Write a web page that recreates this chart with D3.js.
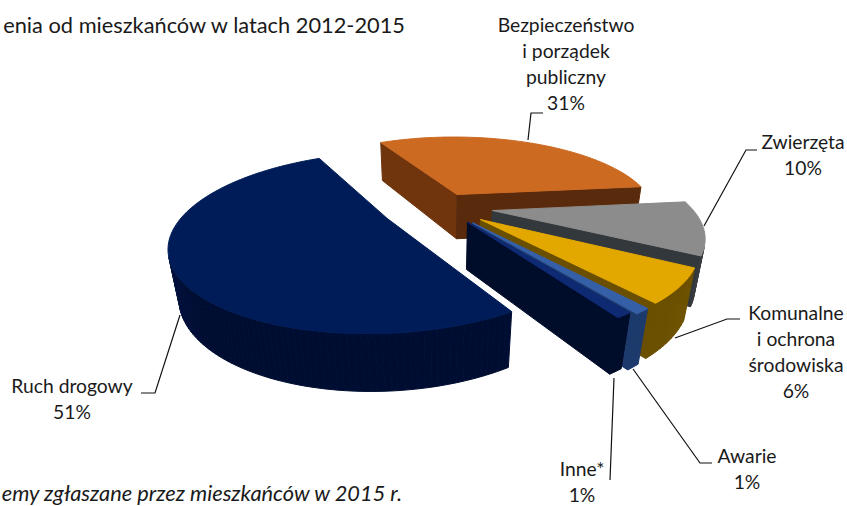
<!DOCTYPE html>
<html>
<head>
<meta charset="utf-8">
<script src="https://cdn.jsdelivr.net/npm/d3@7"></script>
<style>
  html, body { margin: 0; padding: 0; background: #fff; overflow: hidden; }
  text { font-family: Lato, "Open Sans", sans-serif; font-size: 19.3px; fill: #1a1a1a; }
  .leader { fill: none; stroke: #111; stroke-width: 1.2; }
  .title { font-size: 21.8px; }
  .note { font-size: 21.8px; font-style: italic; }
</style>
</head>
<body>
<svg id="chart" width="847" height="506"></svg>
<script>
const categories = ["Ruch drogowy", "Bezpieczeństwo i porządek publiczny", "Zwierzęta", "Komunalne i ochrona środowiska", "Awarie", "Inne*"];
const shares = [51, 31, 10, 6, 1, 1];

// top face, wall and shaded wall colour per slice
const topColors = ["#021d58", "#cc6a22", "#8c8c8c", "#e3a800", "#3660a8", "#0c2a72"];
const wallColors = ["#031a50", "#6f350c", "#42474b", "#7b5c00", "#27467e", "#010f33"];
const wallDark = ["#010e30", "#5a2a08", "#33373a", "#6a4f00", "#1f3a6c", "#010c2a"];
const explode = [0.3, 0.18, 0.26, 0.25, 0.25, 0.23];

const labelLines = [
    ["Ruch drogowy", "51%"],
    ["Bezpieczeństwo", "i porządek", "publiczny", "31%"],
    ["Zwierzęta", "10%"],
    ["Komunalne", "i ochrona", "środowiska", "6%"],
    ["Awarie", "1%"],
    ["Inne*", "1%"]
];
const labelPos = [[72, 393], [566, 32], [803, 149], [796, 320], [747, 463], [582, 476]];

// label anchor [x, y], leader goes via elbow to the slice
const leaders = [
    [[141, 393], [155, 393], [180, 315]],
    [[543, 113], [531, 113], [528, 140]],
    [[757, 150], [746, 150], [704, 226]],
    [[740, 319], [727, 319], [675, 338]],
    [[712, 463], [700, 463], [633, 369]],
    [[610, 480], [614, 378]]
];

const svg = d3.select("#chart");

// perspective view of the pie
const view = {cx: 441, cy: 252, rx: 191.6, ry: 86.5, h: 44, p: 0.25, u: 0, q: 0.035};
function project(x, y, z) {
    const d = 1 - view.p * y + view.u * x - view.q * z;
    return [view.cx + view.rx * x / d, view.cy + (view.ry * y - view.h * z) / d];
}

// d3 pie angles run clockwise from north
const startDeg = -211.6;
const arcs = d3.pie().sort(null)
    .startAngle(startDeg * Math.PI / 180)
    .endAngle((startDeg + 360) * Math.PI / 180)(shares);

const line = d3.line();
const defs = svg.append("defs");
defs.append("filter").attr("id", "soft")
    .append("feGaussianBlur").attr("stdDeviation", 0.5);
const pie = svg.append("g").attr("id", "pie").attr("filter", "url(#soft)");

function face(pts, color) {
    pie.append("path")
        .attr("d", line(pts) + "Z")
        .attr("fill", color)
        .attr("stroke", color)
        .attr("stroke-width", 1);
}

arcs.forEach((a, i) => {
    const mid = (a.startAngle + a.endAngle) / 2;
    const ox = Math.sin(mid) * explode[i];
    const oy = -Math.cos(mid) * explode[i];
    const rim = ang => [ox + Math.sin(ang), oy - Math.cos(ang)];
    const steps = Math.max(2, Math.round((a.endAngle - a.startAngle) * 40));
    const angles = d3.range(steps + 1).map(k => a.startAngle + (a.endAngle - a.startAngle) * k / steps);

    // radial walls, start then end (polygonArea is positive when facing us)
    [[a.startAngle, 1], [a.endAngle, -1]].forEach(([ang, sign]) => {
        const [rx, ry] = rim(ang);
        const quad = [project(ox, oy, 1), project(rx, ry, 1), project(rx, ry, 0), project(ox, oy, 0)];
        if (d3.polygonArea(quad) * sign > 0) {
            face(quad, sign > 0 ? wallColors[i] : wallDark[i]);
        }
    });

    // outer wall, shaded along the arc
    angles.slice(1).forEach((ang, k) => {
        const [x0, y0] = rim(angles[k]);
        const [x1, y1] = rim(ang);
        const quad = [project(x0, y0, 1), project(x1, y1, 1), project(x1, y1, 0), project(x0, y0, 0)];
        if (d3.polygonArea(quad) > 0) {
            const t = Math.max(0, Math.min(1, (Math.cos(ang - Math.PI) + 0.2)));
            face(quad, d3.interpolateRgb(wallColors[i], wallDark[i])(t));
        }
    });

    // top face
    const topPts = [project(ox, oy, 1)].concat(angles.map(ang => {
        const [x, y] = rim(ang);
        return project(x, y, 1);
    }));
    face(topPts, topColors[i]);
});

// leaders
svg.selectAll(".leader")
    .data(leaders)
    .enter()
    .append("path")
    .attr("class", "leader")
    .attr("d", d => line(d));

// data labels
labelLines.forEach((lines, i) => {
    const t = svg.append("text")
        .attr("text-anchor", "middle")
        .attr("x", labelPos[i][0])
        .attr("y", labelPos[i][1]);
    lines.forEach((s, k) => {
        t.append("tspan")
            .attr("x", labelPos[i][0])
            .attr("dy", k === 0 ? 0 : 26)
            .text(s);
    });
});

svg.append("text")
    .attr("class", "title")
    .attr("x", 405).attr("y", 33)
    .attr("text-anchor", "end")
    .text("enia od mieszkańców w latach 2012-2015");

svg.append("text")
    .attr("class", "note")
    .attr("x", 402).attr("y", 501)
    .attr("text-anchor", "end")
    .text("emy zgłaszane przez mieszkańców w 2015 r.");
</script>
</body>
</html>
